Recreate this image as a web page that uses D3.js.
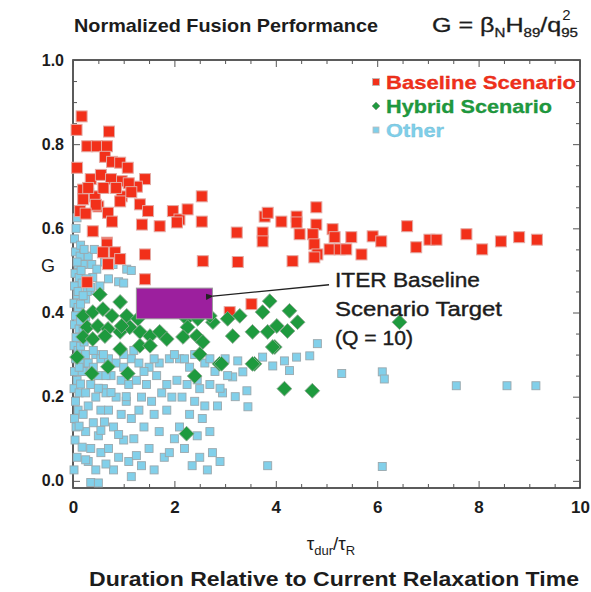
<!DOCTYPE html>
<html>
<head>
<meta charset="utf-8">
<script src="https://cdn.jsdelivr.net/npm/d3@7"></script>
<style>
  body { margin: 0; background: #fff; }
  svg text { font-family: "Liberation Sans Narrow", "Liberation Sans", Arial, sans-serif; fill: #1c1c1c; }
</style>
</head>
<body>
<svg id="svg"></svg>
<script>
// chart values: [tau_dur/tau_R, G]
const baseline = [
  [0.17,0.866],[0.07,0.834],[0.71,0.830],[0.28,0.795],[0.47,0.795],[0.67,0.795],[0.08,0.744],
  [0.63,0.770],[0.77,0.758],[0.93,0.756],[1.08,0.744],[1.42,0.717],[1.26,0.699],[0.96,0.712],
  [0.2,0.692],[0.2,0.669],[0.43,0.676],[0.5,0.652],[0.14,0.641],[0.69,0.637],[0.77,0.616],
  [0.96,0.676],[0.93,0.664],[1.32,0.657],[1.48,0.641],[0.39,0.593],[0.67,0.566],[1.36,0.609],
  [1.71,0.605],[1.97,0.641],[2.1,0.621],[2.26,0.645],[2.05,0.614],[2.54,0.676],[2.54,0.616],
  [3.23,0.590],[0.67,0.562],[0.83,0.543],[0.59,0.543],[0.93,0.527],[0.69,0.515],[1.42,0.538],
  [1.42,0.479],[0.28,0.472],[2.56,0.522],[3.25,0.520],[3.78,0.628],[3.84,0.637],[3.74,0.590],
  [3.74,0.569],[4.11,0.616],[4.33,0.522],[4.41,0.628],[4.41,0.614],[4.47,0.586],[4.8,0.650],
  [4.8,0.609],[4.73,0.586],[4.76,0.562],[4.82,0.538],[4.76,0.531],[5.06,0.550],[5.12,0.598],
  [5.16,0.579],[5.26,0.550],[5.39,0.550],[5.49,0.579],[5.69,0.538],[5.91,0.581],[6.08,0.569],
  [6.59,0.605],[6.77,0.555],[7.03,0.573],[7.17,0.573],[7.76,0.586],[8.07,0.550],[8.44,0.569],
  [8.8,0.579],[9.15,0.573],[3.52,0.420],[3.09,0.401],
  [0.35,0.717],[0.55,0.727],[0.75,0.717],[0.3,0.696],[0.6,0.696],[0.85,0.696],[0.45,0.656],
  [0.25,0.635],[1.1,0.707],[1.15,0.686]
];

const hybrid = [
  [0.53,0.443],[0.93,0.425],[0.2,0.392],[0.39,0.401],[0.59,0.408],[0.77,0.392],[1.06,0.392],
  [1.28,0.385],[0.28,0.365],[0.49,0.368],[0.69,0.361],[0.93,0.354],[1.12,0.365],[0.2,0.342],
  [0.39,0.337],[0.63,0.344],[1.32,0.354],[1.52,0.344],[1.71,0.354],[1.85,0.337],[1.32,0.321],
  [1.52,0.321],[0.93,0.313],[0.08,0.294],[0.69,0.271],[0.37,0.255],[1.08,0.255],[2.24,0.385],
  [2.46,0.385],[2.26,0.365],[2.17,0.342],[2.44,0.344],[2.5,0.301],[2.89,0.278],[2.4,0.249],
  [2.24,0.112],[2.76,0.377],[3.05,0.385],[3.15,0.344],[0.96,0.368],
  [3.88,0.427],[3.74,0.401],[4.27,0.404],[4.43,0.377],[4.23,0.356],[4.02,0.368],[3.84,0.354],
  [3.98,0.318],[3.54,0.354],[3.58,0.278],[2.93,0.278],[3.29,0.392],[6.44,0.377],[2.7,0.392],
  [2.56,0.330],[4.17,0.219],[4.72,0.214],[3.94,0.318],[3.54,0.278]
];

const other = [
  [0.03,0.575],[0.08,0.625],[0.05,0.544],[0.1,0.514],[0.04,0.493],[0.12,0.483],[0.03,0.463],
  [0.08,0.442],[0.02,0.422],[0.1,0.412],[0.05,0.392],[0.03,0.371],[0.12,0.361],[0.06,0.341],
  [0.02,0.321],[0.1,0.310],[0.05,0.290],[0.14,0.280],[0.03,0.260],[0.08,0.239],[0.02,0.219],
  [0.12,0.209],[0.05,0.189],[0.1,0.168],[0.03,0.148],[0.06,0.128],[0.04,0.097],[0.08,0.056],
  [0.02,0.026],
  [0.33,0.686],[0.14,0.534],[0.3,0.534],[0.37,0.514],[0.47,0.503],[0.2,0.514],[0.39,0.483],
  [0.53,0.463],[0.33,0.453],[0.25,0.432],[0.45,0.300],[0.3,0.280],[0.55,0.290],[0.22,0.260],
  [0.5,0.250],[0.35,0.229],[0.6,0.219],[0.25,0.209],[0.45,0.199],[0.3,0.178],[0.55,0.168],
  [0.2,0.158],[0.4,0.138],[0.25,0.117],[0.5,0.107],[0.35,0.077],[0.55,0.067],[0.3,0.046],
  [0.45,0.026],[0.35,-0.004],
  [0.79,0.514],[1.06,0.503],[0.9,0.473],[0.7,0.290],[0.85,0.280],[1.0,0.270],[1.15,0.290],
  [0.75,0.250],[0.95,0.239],[1.1,0.229],[0.65,0.209],[0.85,0.199],[1.05,0.189],[0.7,0.168],
  [0.95,0.158],[1.15,0.148],[0.8,0.128],[1.0,0.097],[0.7,0.077],[0.9,0.056],[1.1,0.046],
  [0.8,0.026],
  [1.3,0.280],[1.5,0.270],[1.7,0.280],[1.9,0.290],[1.25,0.239],[1.45,0.229],[1.65,0.250],
  [1.85,0.229],[1.35,0.199],[1.55,0.189],[1.75,0.209],[1.95,0.199],[1.3,0.168],[1.6,0.158],
  [1.85,0.168],[1.4,0.128],[1.7,0.117],[1.5,0.077],[1.8,0.056],[1.35,0.036],[1.6,0.026],
  [1.9,0.067],
  [2.1,0.290],[2.3,0.270],[2.6,0.280],[2.8,0.260],[2.05,0.239],[2.25,0.229],[2.5,0.219],
  [2.7,0.229],[2.95,0.209],[2.15,0.199],[2.4,0.189],[2.6,0.178],[2.85,0.178],[2.3,0.158],
  [2.55,0.148],[2.1,0.128],[2.45,0.107],[2.7,0.117],[2.2,0.077],[2.5,0.056],[2.75,0.067],
  [2.35,0.036],[2.65,0.026],[2.9,0.046],
  [4.82,0.326],[4.67,0.297],[5.3,0.255],[6.1,0.259],[6.14,0.242],[7.56,0.226],[8.56,0.226],
  [9.13,0.226],[3.43,0.214],[3.45,0.176],[3.84,0.036],[6.1,0.034],[3.25,0.285],[3.74,0.294],
  [4.17,0.285],[4.41,0.294],[3.15,0.247],[3.35,0.259],[3.94,0.273],[4.27,0.262],
  [0.15,0.56],[0.22,0.55],[0.06,0.60],[0.18,0.47],[0.28,0.45],[0.15,0.42],[0.2,0.36],
  [0.15,0.32],[0.25,0.30],[0.4,0.31],[0.6,0.30],[0.18,0.26],[0.4,0.27],[0.65,0.25],[0.15,0.23],
  [0.5,0.22],[0.75,0.21],[0.12,0.13],[0.18,0.08],[0.62,0.14],[0.9,0.11],[1.2,0.10],[1.25,0.06],
  [2.0,0.10],[1.0,0.30],[1.2,0.31],[1.6,0.29],[2.0,0.30],[2.2,0.29],[2.4,0.30],[2.7,0.29],
  [3.0,0.29],[3.05,0.25],[2.9,0.22],[3.2,0.20],[1.4,0.26],[2.45,0.24],[1.05,0.20],[0.55,0.12],
  [0.65,0.04],[1.15,0.01],[0.42,0.55],[0.62,0.52],[0.7,0.48],[1.15,0.50],[1.0,0.47],[0.25,0.05],
  [0.5,-0.005],
  [0.15,0.38],[0.25,0.39],[0.1,0.45],[0.2,0.44],[0.08,0.52],[0.16,0.50],[0.26,0.48],[0.35,0.46],
  [0.12,0.27],[0.22,0.33]
];

// ITER target box [x0, x1, y0, y1] and its pointer line
const iterBox = [1.25, 2.75, 0.385, 0.458];
const iterPointer = [[2.76, 0.439], [5.05, 0.466]];
const iterLabel = ["ITER Baseline", "Scenario Target", "(Q = 10)"];
const iterLabelWidth = [145, 167, 78];

const xTicks = [0, 2, 4, 6, 8, 10];
const yTicks = [0, 0.2, 0.4, 0.6, 0.8, 1.0];

const legendItems = [
  { name: "Baseline Scenario", color: "#f2301a", shape: "square", len: 190 },
  { name: "Hybrid Scenario", color: "#1e9a3e", shape: "diamond", len: 166 },
  { name: "Other", color: "#7fcfea", shape: "small", len: 58 }
];

const width = 591;
const height = 592;

const svg = d3.select('#svg')
  .attr('width', width)
  .attr('height', height);

const yMin = -0.017;
const x = d3.scaleLinear().domain([0, 10]).range([73, 580]);
const y = d3.scaleLinear().domain([yMin, 1.0]).range([488, 60]);

// frame
svg.append('rect')
  .attr('x', x(0)).attr('y', y(1.0))
  .attr('width', x(10) - x(0)).attr('height', y(yMin) - y(1.0))
  .attr('fill', 'none').attr('stroke', '#333').attr('stroke-width', 1.6);

// inward ticks on all four sides
const minorX = d3.range(0, 10.01, 0.5);
const minorY = d3.range(0, 1.001, 0.05);
const tickStyle = g => g.call(s => s.select('.domain').remove())
  .selectAll('line').attr('stroke', '#555');

function tickLen(v, step) { return Math.abs(v / step - Math.round(v / step)) < 1e-6 ? 7 : 4; }

svg.append('g').attr('transform', `translate(0,${y(yMin)})`)
  .call(d3.axisBottom(x).tickValues(minorX).tickFormat('').tickSize(0))
  .call(tickStyle)
  .selectAll('.tick line').attr('y2', d => -tickLen(d, 2));
svg.append('g').attr('transform', `translate(0,${y(1.0)})`)
  .call(d3.axisTop(x).tickValues(minorX).tickFormat('').tickSize(0))
  .call(tickStyle)
  .selectAll('.tick line').attr('y2', d => tickLen(d, 2));
svg.append('g').attr('transform', `translate(${x(0)},0)`)
  .call(d3.axisLeft(y).tickValues(minorY).tickFormat('').tickSize(0))
  .call(tickStyle)
  .selectAll('.tick line').attr('x2', d => tickLen(d, 0.2));
svg.append('g').attr('transform', `translate(${x(10)},0)`)
  .call(d3.axisRight(y).tickValues(minorY).tickFormat('').tickSize(0))
  .call(tickStyle)
  .selectAll('.tick line').attr('x2', d => -tickLen(d, 0.2));

// tick labels
svg.append('g').attr('transform', `translate(0,${y(yMin)})`)
  .call(d3.axisBottom(x).tickValues(xTicks).tickFormat(d3.format('d')).tickSize(0).tickPadding(13))
  .call(g => g.select('.domain').remove())
  .selectAll('text').attr('font-size', 17).attr('font-weight', 'bold').attr('fill', '#222');
svg.append('g').attr('transform', `translate(${x(0)},0)`)
  .call(d3.axisLeft(y).tickValues(yTicks).tickFormat(d3.format('.1f')).tickSize(0).tickPadding(9))
  .call(g => g.select('.domain').remove())
  .selectAll('text').attr('font-size', 16).attr('font-weight', 'bold').attr('fill', '#222');

// markers
const plot = svg.append('g');

plot.selectAll('rect.other')
  .data(other)
  .enter()
  .append('rect')
  .attr('class', 'other')
  .attr('x', d => x(d[0]) - 4).attr('y', d => y(d[1]) - 4)
  .attr('width', 8).attr('height', 8)
  .attr('fill', '#82d0ea').attr('stroke', '#9aa8ad').attr('stroke-width', 0.9);

plot.selectAll('rect.baseline')
  .data(baseline)
  .enter()
  .append('rect')
  .attr('class', 'baseline')
  .attr('x', d => x(d[0]) - 5.5).attr('y', d => y(d[1]) - 5.5)
  .attr('width', 11).attr('height', 11)
  .attr('fill', '#f2301a').attr('stroke', '#e4aaa4').attr('stroke-width', 1);

const diamond = d3.symbol().type(d3.symbolDiamond2).size(140);
plot.selectAll('path.hybrid')
  .data(hybrid)
  .enter()
  .append('path')
  .attr('class', 'hybrid')
  .attr('d', diamond)
  .attr('transform', d => `translate(${x(d[0])},${y(d[1])})`)
  .attr('fill', '#1e9a3e').attr('stroke', '#8aa890').attr('stroke-width', 0.9);

// ITER target box
plot.append('rect')
  .attr('x', x(iterBox[0])).attr('y', y(iterBox[3]))
  .attr('width', x(iterBox[1]) - x(iterBox[0]))
  .attr('height', y(iterBox[2]) - y(iterBox[3]))
  .attr('fill', '#9c1f9e').attr('stroke', '#999').attr('stroke-width', 1);

svg.append('defs').append('marker')
  .attr('id', 'arrow').attr('viewBox', '0 0 10 10')
  .attr('refX', 1).attr('refY', 5)
  .attr('markerWidth', 6).attr('markerHeight', 6)
  .attr('orient', 'auto')
  .append('path').attr('d', 'M10,1 L0,5 L10,9 Z').attr('fill', '#222');

svg.append('line')
  .attr('x1', x(iterPointer[1][0])).attr('y1', y(iterPointer[1][1]))
  .attr('x2', x(iterPointer[0][0])).attr('y2', y(iterPointer[0][1]))
  .attr('stroke', '#222').attr('stroke-width', 1.3)
  .attr('marker-end', 'url(#arrow)');

svg.append('g').selectAll('text')
  .data(iterLabel)
  .enter()
  .append('text')
  .attr('x', 335)
  .attr('y', (d, i) => 287 + i * 29)
  .attr('font-size', 20)
  .attr('stroke', '#1c1c1c').attr('stroke-width', 0.4)
  .attr('textLength', (d, i) => iterLabelWidth[i]).attr('lengthAdjust', 'spacingAndGlyphs')
  .text(d => d);

// legend
const legend = svg.append('g').attr('transform', 'translate(376,82)');
legendItems.forEach((item, i) => {
  const row = legend.append('g').attr('transform', `translate(0,${i * 24})`);
  if (item.shape === 'diamond') {
    row.append('path').attr('d', d3.symbol().type(d3.symbolDiamond2).size(40))
      .attr('fill', item.color).attr('stroke', '#8aa890');
  } else {
    const s = item.shape === 'small' ? 6 : 7;
    row.append('rect').attr('x', -s / 2).attr('y', -s / 2).attr('width', s).attr('height', s)
      .attr('fill', item.color).attr('stroke', '#bbb').attr('stroke-width', 0.8);
  }
  row.append('text')
    .attr('x', 10).attr('y', 7)
    .attr('font-size', 19).attr('font-weight', 'bold')
    .attr('textLength', item.len).attr('lengthAdjust', 'spacingAndGlyphs')
    .style('fill', item.color)
    .attr('stroke', d3.color(item.color).darker(0.3)).attr('stroke-width', 0.3)
    .text(item.name);
});

// titles
svg.append('text')
  .attr('x', 74).attr('y', 32)
  .attr('font-size', 19).attr('font-weight', 'bold')
  .attr('textLength', 304).attr('lengthAdjust', 'spacingAndGlyphs')
  .text('Normalized Fusion Performance');

const formula = svg.append('text').attr('x', 432).attr('y', 32).attr('font-size', 20)
  .attr('stroke', '#1c1c1c').attr('stroke-width', 0.3)
  .attr('textLength', 146).attr('lengthAdjust', 'spacingAndGlyphs');
formula.append('tspan').text('G = β');
formula.append('tspan').attr('dy', 5).attr('font-size', 12).text('N');
formula.append('tspan').attr('dy', -5).text('H');
formula.append('tspan').attr('dy', 5).attr('font-size', 12).text('89');
formula.append('tspan').attr('dy', -5).text('/q');
const q95 = formula.append('tspan').attr('dy', 5).attr('font-size', 12).text('95');
const supX = q95.node().getStartPositionOfChar(0).x;
svg.append('text').attr('x', supX + 1).attr('y', 20).attr('font-size', 15).text('2');

svg.append('text')
  .attr('x', 48).attr('y', 272)
  .attr('text-anchor', 'middle')
  .attr('font-size', 18)
  .text('G');

const xTitle = svg.append('text')
  .attr('x', 331).attr('y', 550)
  .attr('text-anchor', 'middle')
  .attr('font-size', 19);
xTitle.append('tspan').text('τ');
xTitle.append('tspan').attr('dy', 5).attr('font-size', 13).text('dur');
xTitle.append('tspan').attr('dy', -5).text('/τ');
xTitle.append('tspan').attr('dy', 5).attr('font-size', 13).text('R');

svg.append('text')
  .attr('x', 89).attr('y', 586)
  .attr('font-size', 20).attr('font-weight', 'bold')
  .attr('textLength', 490).attr('lengthAdjust', 'spacingAndGlyphs')
  .text('Duration Relative to Current Relaxation Time');
</script>
</body>
</html>
